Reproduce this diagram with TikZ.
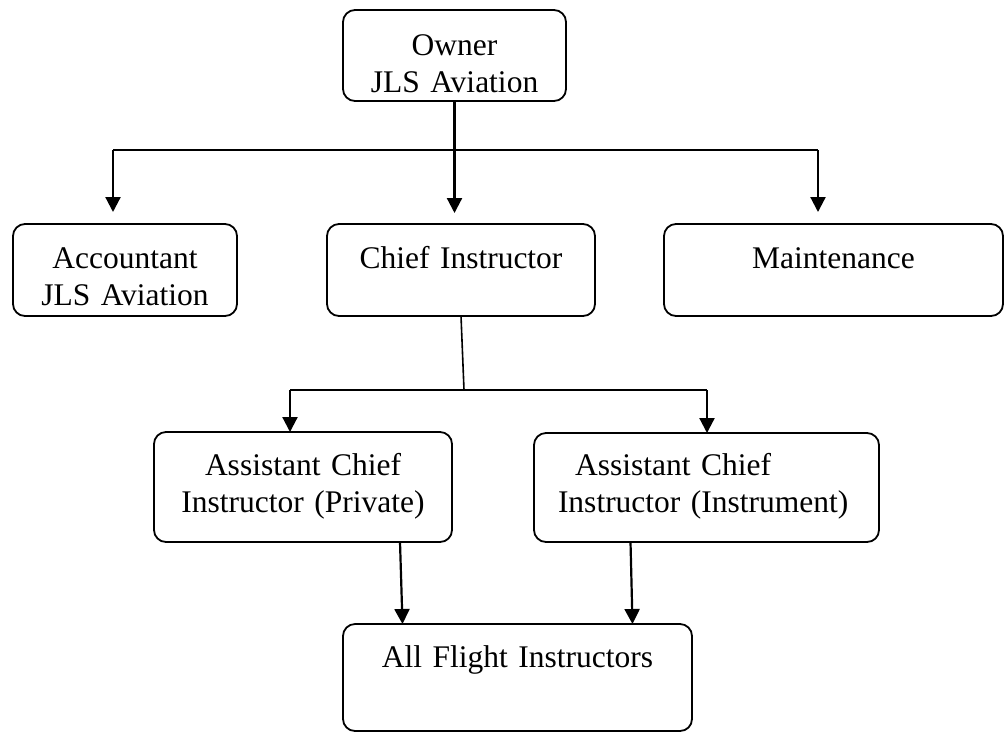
\documentclass[tikz,border=0pt]{standalone}
\usepackage{fontspec}
\setmainfont{Liberation Serif}
\usetikzlibrary{arrows.meta}

\begin{document}
\begin{tikzpicture}[x=1pt,y=-1pt,
  box/.style={draw,rounded corners=12pt,line width=1.8pt,inner xsep=0pt,inner ysep=0pt,
    outer sep=0pt,anchor=north west,align=center,font=\fontsize{31.5}{37}\selectfont},
  arr/.style={-{Triangle[length=15pt,width=15pt]},line width=2.2pt},
  bus/.style={line width=1.6pt}]
  \useasboundingbox (0,0) rectangle (1008,732);
  % boxes, placed by their top left corners
  \node[box,text width=223pt,text height=45pt,text depth=46pt] (owner) at (343,10) {Owner\\JLS Aviation};
  \node[box,text width=224pt,text height=44pt,text depth=48pt] (acct) at (13,224) {Accountant\\JLS Aviation};
  \node[box,text width=268pt,text height=44pt,text depth=48pt] (chief) at (327,224) {Chief Instructor};
  \node[box,text width=339pt,text height=44pt,text depth=48pt] (maint) at (664,224) {Maintenance};
  \node[box,text width=298pt,text height=43pt,text depth=67pt] (private) at (154,432) {Assistant Chief\\Instructor (Private)};
  \node[box,align=left,text width=345pt,text height=42pt,text depth=67pt] (instr) at (534,433)
    {\hspace*{41pt}Assistant Chief\\\hspace*{24pt}Instructor (Instrument)};
  \node[box,text width=349pt,text height=43pt,text depth=64pt] (allfl) at (343,624) {All Flight Instructors};

  % first level
  \coordinate (busL) at (113,150);
  \coordinate (busR) at (818,150);
  \draw[arr,shorten >=11pt] (owner.south) -- (owner.south |- chief.north);
  \draw[bus] (busL) -- (busR);
  \draw[arr,shorten >=12pt] (busL) -- (busL |- acct.north);
  \draw[arr,shorten >=12pt] (busR) -- (busR |- maint.north);

  % second level
  \coordinate (cbus) at (464,390);
  \coordinate (cbusL) at (290,390);
  \coordinate (cbusR) at (707,390);
  \draw[bus] (chief.south) -- (cbus);
  \draw[bus] (cbusL) -- (cbusR);
  \draw[arr] (cbusL) -- (cbusL |- private.north);
  \draw[arr] (cbusR) -- (cbusR |- instr.north);

  % third level
  \draw[arr] ([xshift=97pt]private.south) -- ([xshift=-115pt]allfl.north);
  \draw[arr] ([xshift=-76pt]instr.south) -- ([xshift=115pt]allfl.north);
\end{tikzpicture}
\end{document}
